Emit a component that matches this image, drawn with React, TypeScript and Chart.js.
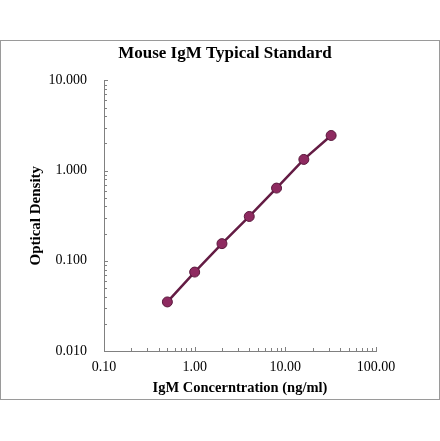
import React, { useEffect, useRef } from "react";
import { Chart, registerables } from "chart.js";

Chart.register(...registerables);

const titleText = "Mouse IgM Typical Standard";
const xTitle = "IgM Concerntration (ng/ml)";
const yTitle = "Optical Density";

const concentrations = [0.5, 1, 2, 4, 8, 16, 32];
const opticalDensity = [0.035, 0.075, 0.155, 0.31, 0.64, 1.33, 2.45];

const xTickValues = [0.1, 1, 10, 100];
const yTickValues = [0.01, 0.1, 1, 10];
const xDecimals = 2;
const yDecimals = 3;

const serif = "'Liberation Serif', 'Times New Roman', serif";

const innerTicks = {
  id: "innerTicks",
  afterDraw(chart: any) {
    const ctx = chart.ctx;
    const xs = chart.scales.x;
    const ys = chart.scales.y;
    const area = chart.chartArea;
    ctx.save();
    ctx.strokeStyle = "#808080";
    ctx.lineWidth = 1;
    const drawX = (v: number, len: number) => {
      const p = Math.round(xs.getPixelForValue(v)) + 0.5;
      ctx.beginPath();
      ctx.moveTo(p, area.bottom);
      ctx.lineTo(p, area.bottom - len);
      ctx.stroke();
    };
    const drawY = (v: number, len: number) => {
      const p = Math.round(ys.getPixelForValue(v)) + 0.5;
      ctx.beginPath();
      ctx.moveTo(area.left, p);
      ctx.lineTo(area.left + len, p);
      ctx.stroke();
    };
    for (let d = 0; d < xTickValues.length; d++) {
      const base = xTickValues[d];
      drawX(base, 4);
      if (d < xTickValues.length - 1) for (let m = 2; m <= 9; m++) drawX(base * m, 3);
    }
    for (let d = 0; d < yTickValues.length; d++) {
      const base = yTickValues[d];
      drawY(base, 4);
      if (d < yTickValues.length - 1) for (let m = 2; m <= 9; m++) drawY(base * m, 3);
    }
    ctx.restore();
  },
};

export default function App() {
  const ref = useRef<HTMLCanvasElement | null>(null);
  useEffect(() => {
    if (!ref.current) return;
    const chart = new Chart(ref.current, {
      type: "scatter",
      data: {
        datasets: [
          {
            data: concentrations.map((x, i) => ({ x, y: opticalDensity[i] })),
            showLine: true,
            borderColor: "#641c44",
            borderWidth: 2.5,
            pointRadius: 5,
            pointBackgroundColor: "#8e2a60",
            pointBorderColor: "#5a183c",
            pointBorderWidth: 1,
          },
        ],
      },
      options: {
        animation: false,
        responsive: true,
        maintainAspectRatio: false,
        layout: { padding: { left: 10, right: 0, top: 0, bottom: 0 } },
        plugins: {
          legend: { display: false },
          tooltip: { enabled: false },
          title: {
            display: true,
            text: titleText,
            color: "#000",
            font: { family: serif, size: 17, weight: "bold" },
            padding: { top: 43, bottom: 17 },
          },
        },
        scales: {
          x: {
            type: "logarithmic",
            min: 0.1,
            max: 100,
            afterBuildTicks: (s: any) => {
              s.ticks = xTickValues.map((v) => ({ value: v }));
            },
            afterFit: (s: any) => {
              s.height = 90;
            },
            ticks: {
              autoSkip: false,
              maxRotation: 0,
              padding: 8,
              color: "#000",
              font: { family: serif, size: 14 },
              callback: (v: any) => Number(v).toFixed(xDecimals),
            },
            grid: { display: true, drawOnChartArea: false, drawTicks: false },
            border: { display: true, color: "#808080", width: 1 },
            title: {
              display: true,
              text: xTitle,
              color: "#000",
              font: { family: serif, size: 14.5, weight: "bold" },
              padding: { top: 0, bottom: 44 },
            },
          },
          y: {
            type: "logarithmic",
            min: 0.01,
            max: 10,
            afterBuildTicks: (s: any) => {
              s.ticks = yTickValues.map((v) => ({ value: v }));
            },
            afterFit: (s: any) => {
              s.width = 94;
            },
            ticks: {
              autoSkip: false,
              padding: 17,
              color: "#000",
              font: { family: serif, size: 14 },
              callback: (v: any) => Number(v).toFixed(yDecimals),
            },
            grid: { display: true, drawOnChartArea: false, drawTicks: false },
            border: { display: true, color: "#808080", width: 1 },
            title: {
              display: true,
              text: yTitle,
              color: "#000",
              font: { family: serif, size: 15, weight: "bold" },
              padding: { top: 17, bottom: 0 },
            },
          },
          rightSpace: {
            type: "linear",
            position: "right",
            display: true,
            afterFit: (s: any) => {
              s.width = 64;
            },
            ticks: { display: false },
            grid: { display: false, drawTicks: false },
            border: { display: false },
          },
        },
      },
      plugins: [innerTicks],
    });
    return () => chart.destroy();
  }, []);

  return (
    <div style={{ position: "fixed", left: 0, top: 0, width: 440, height: 441, background: "#fff" }}>
      <div
        style={{
          position: "absolute",
          left: 0,
          top: 40,
          width: 440,
          height: 360,
          boxSizing: "border-box",
          border: "1px solid #9a9a9a",
        }}
      />
      <div style={{ position: "absolute", left: 0, top: 0, width: 440, height: 441 }}>
        <canvas ref={ref} />
      </div>
    </div>
  );
}
